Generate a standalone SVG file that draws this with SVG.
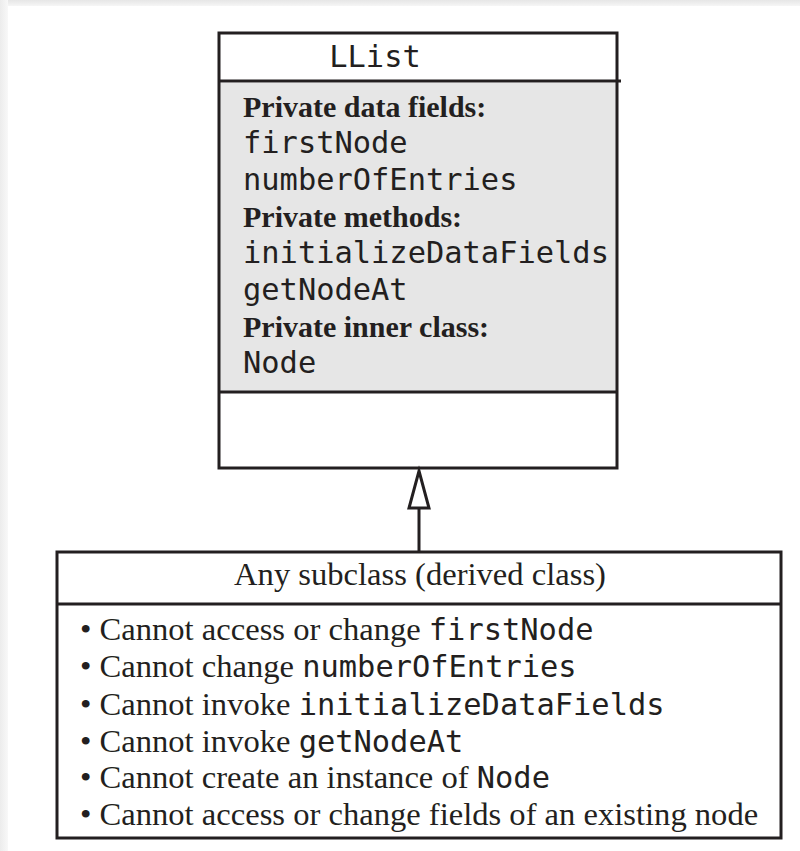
<svg xmlns="http://www.w3.org/2000/svg" width="800" height="851" viewBox="0 0 800 851">
<defs>
<linearGradient id="gt" x1="0" y1="0" x2="0" y2="1"><stop offset="0" stop-color="#e6e6e6"/><stop offset="1" stop-color="#f6f6f6"/></linearGradient>
<linearGradient id="gl" x1="0" y1="0" x2="1" y2="0"><stop offset="0" stop-color="#ececec"/><stop offset="1" stop-color="#f8f8f8"/></linearGradient>
</defs>
<style>
.box{fill:none;stroke:#231f20;stroke-width:3}
.mono{font-family:"DejaVu Sans Mono",monospace;font-size:30.4px;fill:#231f20}
.bold{font-family:"Liberation Serif",serif;font-weight:bold;font-size:30px;fill:#231f20}
.ser{font-family:"Liberation Serif",serif;font-size:32.6px;fill:#231f20}
.bm{font-family:"DejaVu Sans Mono",monospace;font-size:30.4px}
</style>
<rect width="800" height="851" fill="#fff"/>
<rect x="0" y="0" width="800" height="6" fill="url(#gt)"/>
<rect x="0" y="0" width="8" height="851" fill="url(#gl)"/>
<g id="llist">
<rect x="219" y="83" width="398" height="309" fill="#e6e6e6"/>
<rect class="box" x="219" y="33" width="398" height="435"/>
<line class="box" x1="219" y1="81" x2="621" y2="81"/>
<line class="box" x1="219" y1="392" x2="617" y2="392"/>
<text class="mono" x="375" y="67" text-anchor="middle">LList</text>
<text class="bold" x="243" y="117">Private data fields:</text>
<text class="mono" x="243" y="153">firstNode</text>
<text class="mono" x="243" y="190">numberOfEntries</text>
<text class="bold" x="243" y="227">Private methods:</text>
<text class="mono" x="243" y="263">initializeDataFields</text>
<text class="mono" x="243" y="300">getNodeAt</text>
<text class="bold" x="243" y="337">Private inner class:</text>
<text class="mono" x="243" y="373">Node</text>
</g>
<g id="connectors">
<line class="box" x1="419" y1="508" x2="419" y2="552"/>
<polygon class="box" points="419,471 429,508 409,508" fill="#fff"/>
</g>
<g id="subclass">
<rect class="box" x="57" y="552" width="724" height="286" fill="#fff"/>
<line class="box" x1="57" y1="604" x2="781" y2="604"/>
<text class="ser" x="420" y="585" text-anchor="middle">Any subclass (derived class)</text>
<text class="ser" x="80" y="640">• Cannot access or change <tspan class="bm">firstNode</tspan></text>
<text class="ser" x="80" y="677">• Cannot change <tspan class="bm">numberOfEntries</tspan></text>
<text class="ser" x="80" y="715">• Cannot invoke <tspan class="bm">initializeDataFields</tspan></text>
<text class="ser" x="80" y="752">• Cannot invoke <tspan class="bm">getNodeAt</tspan></text>
<text class="ser" x="80" y="788">• Cannot create an instance of <tspan class="bm">Node</tspan></text>
<text class="ser" x="80" y="825">• Cannot access or change fields of an existing node</text>
</g>
</svg>
